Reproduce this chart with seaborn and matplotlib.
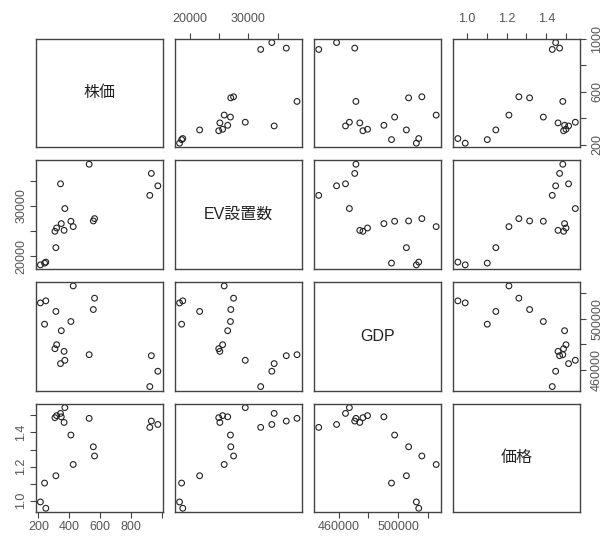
import numpy as np
import pandas as pd
import seaborn as sns
import matplotlib.pyplot as plt

sns.set_theme(style="white")
plt.rcParams["font.family"] = ["Liberation Sans", "Noto Sans CJK JP", "DejaVu Sans"]

# Observations (one entry per period)
stock = [248, 213, 240, 313, 425, 563, 555, 410, 920, 972, 930, 528, 366, 307, 348, 318, 343, 371]
ev_count = [18800, 18250, 18600, 21680, 25870, 27470, 27000, 26940, 32100, 34000,
            36470, 38300, 25130, 24940, 26470, 25600, 34400, 29470]
gdp = [513900, 512300, 495600, 505600, 525600, 516000, 507100, 497700, 446700, 458700,
       470900, 471700, 474300, 476400, 490500, 479500, 464700, 467300]
price = [0.955, 0.992, 1.103, 1.146, 1.212, 1.262, 1.316, 1.385, 1.430, 1.447,
         1.467, 1.483, 1.459, 1.487, 1.492, 1.499, 1.512, 1.546]

names = ["株価", "EV設置数", "GDP", "価格"]

# Tick positions and the labels printed on each outer axis
stock_ticks = [200, 400, 600, 800, 1000]
stock_xlabels = ["200", "400", "600", "800", ""]
stock_ylabels = ["200", "", "600", "", "1000"]
ev_ticks = [20000, 25000, 30000, 35000]
ev_labels = ["20000", "", "30000", ""]
gdp_ticks = [460000, 480000, 500000, 520000]
gdp_labels = ["460000", "", "500000", ""]
price_ticks = [1.0, 1.1, 1.2, 1.3, 1.4, 1.5]
price_labels = ["1.0", "", "1.2", "", "1.4", ""]

df = pd.DataFrame({names[0]: stock, names[1]: ev_count, names[2]: gdp, names[3]: price})

g = sns.PairGrid(df, vars=names, despine=False, height=1.3)
g.map_offdiag(sns.scatterplot, marker="o", s=17, facecolors="none",
              edgecolor="#222222", linewidth=0.8)

fig = g.figure
fig.set_size_inches(6.05, 5.38)

n = len(names)
ticks = [stock_ticks, ev_ticks, gdp_ticks, price_ticks]
xlabels = [stock_xlabels, ev_labels, gdp_labels, price_labels]
ylabels = [stock_ylabels, ev_labels, gdp_labels, price_labels]

box_col = "#444444"
lab_col = "#555555"

for i in range(n):
    for j in range(n):
        ax = g.axes[i, j]
        ax.set_xlabel("")
        ax.set_ylabel("")
        for sp in ax.spines.values():
            sp.set_color(box_col)
            sp.set_linewidth(1.0)
        ax.tick_params(axis="both", which="both", bottom=False, top=False, left=False,
                       right=False, labelbottom=False, labeltop=False,
                       labelleft=False, labelright=False,
                       direction="out", length=4.5, width=0.8, color=box_col,
                       labelsize=9, labelcolor=lab_col)

# Axis limits padded by 4% of each variable's range
for k, col in enumerate(names):
    v = np.asarray(df[col], dtype=float)
    r = v.max() - v.min()
    lo, hi = v.min() - 0.04 * r, v.max() + 0.04 * r
    g.axes[0, k].set_xlim(lo, hi)
    g.axes[k, 0].set_ylim(lo, hi)
    g.axes[0, k].set_xticks(ticks[k])
    g.axes[k, 0].set_yticks(ticks[k])

# Alternating outer axes: x on top for even columns, bottom for odd;
# y on the left for even rows, right for odd
for k in range(n):
    if k % 2 == 0:
        ax = g.axes[n - 1, k]
        ax.tick_params(axis="x", bottom=True, labelbottom=True, pad=2)
        ax.set_xticklabels(xlabels[k])
    else:
        ax = g.axes[0, k]
        ax.tick_params(axis="x", top=True, labeltop=True, pad=5.5)
        ax.set_xticklabels(xlabels[k])
    if k % 2 == 0:
        ax = g.axes[k, n - 1]
        ax.tick_params(axis="y", right=True, labelright=True, pad=3.5)
        ax.set_yticklabels(ylabels[k], rotation=90, va="center")
    else:
        ax = g.axes[k, 0]
        ax.tick_params(axis="y", left=True, labelleft=True, pad=1.5)
        ax.set_yticklabels(ylabels[k], rotation=90, va="center")

# Variable names on the diagonal
for k, name in enumerate(names):
    ax = g.axes[k, k]
    ax.text(0.5, 0.5, name, transform=ax.transAxes, ha="center", va="center",
            fontsize=11.5, color="#222222")

fig.subplots_adjust(left=0.059, right=0.9587, bottom=0.0478, top=0.9284,
                    wspace=0.097, hspace=0.1196)
fig.savefig("out.png", dpi=100)
